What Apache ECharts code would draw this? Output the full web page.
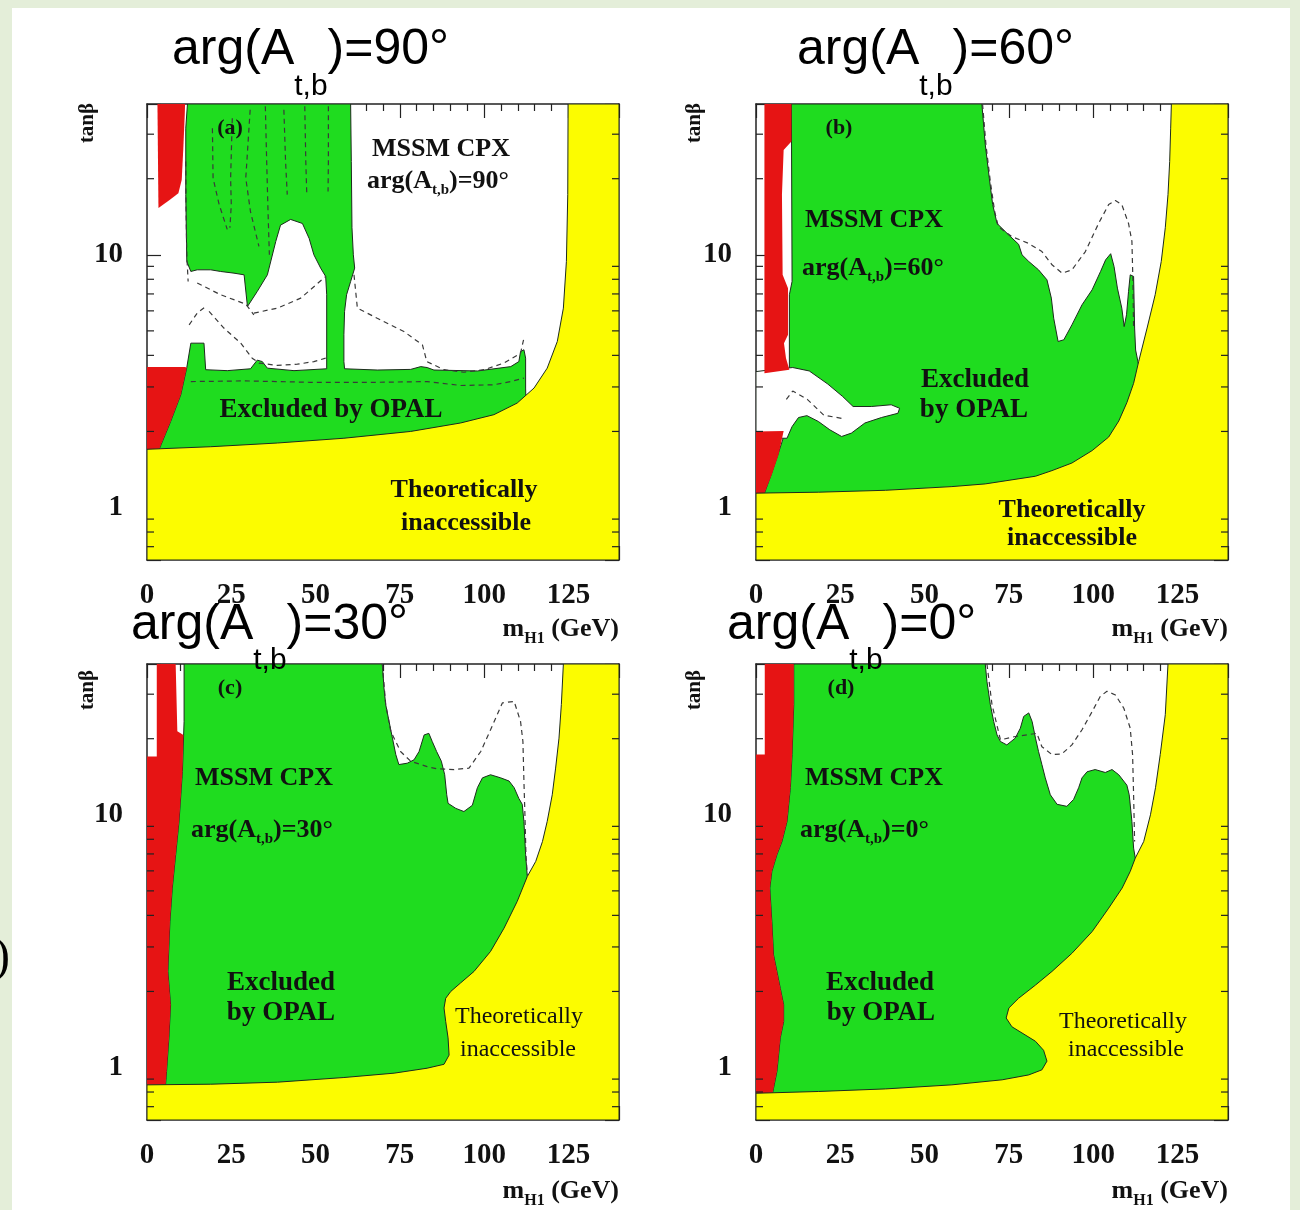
<!DOCTYPE html>
<html>
<head>
<meta charset="utf-8">
<title>MSSM CPX exclusion in the (m_H1, tanβ) plane</title>
<script src="https://cdn.jsdelivr.net/npm/echarts@6/dist/echarts.min.js"></script>
<style>
  html, body { margin: 0; padding: 0; background: #e4eed9; }
  #chart { width: 1300px; height: 1210px; }
</style>
</head>
<body>
<div id="chart"></div>
<script>
// ---------------------------------------------------------------------------
// Axis ranges and ticks (m_H1 in GeV, tanβ on a log scale)
// ---------------------------------------------------------------------------
const massRange = [0, 140];
const massTickStep = 25;
const tanbRange = [0.62, 39.5];
const tanbMajorTicks = [1, 10];
const tanbMinorTicks = [0.7, 0.8, 0.9, 2, 3, 4, 5, 6, 7, 8, 9, 20, 30];
const phases = ['90', '60', '30', '0'];
const panelTags = ['(a)', '(b)', '(c)', '(d)'];

// ---------------------------------------------------------------------------
// arg(A_t,b) = 90°   — region outlines as [m_H1, tanβ]
// ---------------------------------------------------------------------------
const inaccessible90 = [[0,1.70],[18.9,1.74],[38.7,1.80],[58.4,1.88],[78.2,2.00],[93.0,2.16],[102.9,2.33],[109.8,2.59],[114.8,2.97],[118.7,3.56],[121.7,4.54],[123.5,6.15],[124.4,9.41],[124.8,17.3],[124.9,39.5],[140,39.5],[140,0.62],[0,0.62]];
const excluded90 = [[12.0,39.5],[60.4,39.5],[60.6,23.4],[60.8,12.8],[61.2,10.0],[61.6,8.86],[60.4,7.84],[59.2,6.95],[58.6,5.97],[58.4,4.83],[58.4,3.78],[58.6,3.54],[68.3,3.50],[78.2,3.52],[81.2,3.61],[83.1,3.58],[85.1,3.50],[98.0,3.47],[107.9,3.61],[110.3,3.78],[110.8,4.14],[111.8,4.21],[112.3,3.90],[112.3,2.97],[112.8,1.52],[3.1,1.52],[3.6,1.70],[7.0,2.19],[10.0,2.79],[11.8,3.58],[13.0,4.47],[16.9,4.47],[17.4,3.51],[23.8,3.48],[30.7,3.54],[32.7,3.83],[34.2,3.78],[35.7,3.56],[43.6,3.48],[53.3,3.54],[53.3,6.95],[53.0,8.21],[51.5,8.86],[49.5,10.0],[48.1,11.6],[46.1,13.3],[42.6,13.8],[39.6,13.1],[38.2,11.3],[35.7,8.33],[32.7,7.16],[29.8,6.24],[28.8,8.33],[25.8,8.46],[21.8,8.59],[18.9,8.72],[14.9,8.72],[13.0,8.59],[11.8,9.41],[11.5,17.3],[11.5,31.7]];
const redTop90 = [[3.1,39.5],[11.3,39.5],[11.2,36.0],[10.8,26.8],[10.3,19.8],[9.3,17.5],[6.8,16.5],[3.4,15.3]];
const redLow90 = [[0,3.60],[11.2,3.60],[11.8,3.58],[10.0,2.79],[7.0,2.19],[3.6,1.70],[3.0,1.60],[0,1.60]];
const dash90 = [
  [[19.4,31.7],[19.6,20.1],[21.4,15.8],[23.8,12.6]],
  [[25.3,34.7],[24.8,20.1],[25.0,15.8],[24.6,12.8]],
  [[30.6,37.5],[29.3,20.1],[30.7,14.8],[33.2,10.8]],
  [[35.1,38.7],[35.5,23.4],[35.9,14.8],[36.3,10.0]],
  [[40.6,37.5],[41.1,23.4],[41.6,17.3]],
  [[46.8,38.7],[47.1,23.4],[47.4,17.3]],
  [[53.8,38.7],[53.8,23.4],[53.7,17.8]],
  [[11.5,23.4],[11.6,14.8],[11.8,10.0],[12.2,7.84]],
  [[14.9,7.73],[21.8,6.95],[29.3,6.38],[31.7,5.79]],
  [[31.7,5.88],[38.7,6.15],[45.6,6.74],[53.0,8.21]],
  [[12.5,5.28],[14.9,5.88],[17.4,6.24]],
  [[18.4,5.97],[22.8,5.13],[27.8,4.47],[31.2,3.90],[33.2,3.73],[38.7,3.65],[44.6,3.69],[49.5,3.78],[53.0,3.90]],
  [[61.4,8.33],[62.4,6.15],[68.3,5.61],[76.2,4.97],[81.7,4.40],[83.0,3.78],[88.1,3.51],[94.0,3.43],[100.0,3.51],[105.9,3.73],[110.8,4.08],[111.8,4.68]],
  [[13.0,3.15],[28.8,3.17],[48.5,3.13],[68.3,3.13],[83.1,3.15],[93.0,3.04],[102.9,3.06],[107.9,3.15],[111.8,3.25]]
];

// ---------------------------------------------------------------------------
// arg(A_t,b) = 60°
// ---------------------------------------------------------------------------
const inaccessible60 = [[0,1.14],[18.6,1.15],[38.4,1.17],[58.1,1.21],[68.0,1.24],[82.9,1.33],[87.8,1.40],[93.7,1.50],[99.7,1.68],[104.6,1.90],[107.6,2.20],[110.0,2.60],[112.0,3.10],[113.5,3.78],[116.0,5.13],[118.4,6.95],[120.2,9.41],[121.4,12.8],[122.2,17.3],[122.7,23.4],[123.0,31.7],[123.2,39.5],[140,39.5],[140,0.62],[0,0.62]];
const excluded60 = [[10.5,39.5],[67.0,39.5],[68.0,27.3],[69.2,20.1],[70.2,15.8],[71.5,13.3],[74.9,12.0],[77.9,11.0],[78.9,10.0],[80.9,9.41],[83.8,8.72],[86.3,7.96],[87.6,6.74],[88.3,5.61],[89.6,4.54],[91.3,4.61],[93.7,5.28],[96.7,6.34],[99.7,7.27],[102.2,8.59],[103.7,9.55],[105.2,10.1],[106.2,8.99],[107.2,7.38],[108.5,6.15],[109.2,5.20],[109.9,5.79],[110.5,7.16],[111.0,8.33],[112.0,8.21],[112.3,5.13],[112.6,4.20],[113.6,3.60],[114.0,0.96],[2.5,0.96],[2.5,1.14],[4.5,1.35],[6.5,1.62],[8.7,2.00],[9.9,3.56],[9.9,6.95],[10.7,7.84]];
const channel60 = [[0,3.45],[4.5,3.51],[10.9,3.58],[15.8,3.47],[21.3,3.08],[25.7,2.75],[28.8,2.51],[34.2,2.51],[40.1,2.55],[42.6,2.47],[42.1,2.36],[37.2,2.27],[32.3,2.16],[28.3,1.97],[25.4,1.91],[21.9,2.03],[18.5,2.19],[15.1,2.31],[12.6,2.27],[10.7,2.09],[9.2,1.88],[0,1.88]];
const redTop60 = [[2.5,39.5],[10.5,39.5],[10.5,28.1],[8.2,26.0],[7.7,17.3],[7.9,8.33],[9.5,7.38],[9.5,4.83],[8.3,4.47],[8.9,3.90],[9.9,3.51],[2.5,3.40]];
const redLow60 = [[0,2.00],[8.2,2.01],[6.7,1.62],[4.7,1.35],[2.5,1.14],[2.4,1.10],[0,1.10]];
const dash60 = [
  [[67.2,39.5],[68.2,27.3],[69.5,19.5],[70.8,14.8],[71.9,12.9],[75.9,11.8],[80.8,11.1],[84.8,10.3],[87.8,9.13],[90.8,8.46],[93.7,8.72],[97.7,10.3],[101.6,13.3],[104.6,15.8],[106.6,16.4],[108.5,15.8],[110.5,13.3],[111.5,11.3],[111.8,7.84],[112.0,5.13]],
  [[9.0,2.68],[10.9,2.89],[15.2,2.68],[20.1,2.32],[26.4,2.24]]
];

// ---------------------------------------------------------------------------
// arg(A_t,b) = 30°
// ---------------------------------------------------------------------------
const inaccessible30 = [[0,0.854],[18.9,0.859],[38.7,0.875],[58.4,0.913],[73.3,0.950],[83.1,0.994],[88.1,1.03],[89.6,1.12],[89.3,1.31],[88.6,1.52],[88.1,1.72],[88.6,1.88],[90.1,2.00],[93.0,2.16],[97.0,2.40],[101.9,2.88],[105.9,3.56],[109.8,4.54],[112.8,5.70],[115.3,6.54],[117.3,7.84],[118.7,9.41],[120.2,12.0],[121.2,15.3],[122.2,20.1],[122.9,27.3],[123.5,39.5],[140,39.5],[140,0.62],[0,0.62]];
const excluded30 = [[11.0,39.5],[69.8,39.5],[70.3,31.7],[70.8,27.3],[71.8,23.4],[72.8,20.1],[73.8,17.3],[74.7,15.8],[77.2,16.0],[79.2,16.5],[80.7,17.8],[82.2,20.7],[83.6,21.0],[84.6,19.5],[85.9,17.8],[87.3,16.3],[88.3,14.4],[88.9,12.0],[89.3,11.1],[91.6,10.6],[94.0,10.3],[96.5,10.9],[98.0,12.8],[99.5,14.0],[101.9,14.4],[104.9,14.0],[107.4,13.6],[108.9,12.8],[110.3,11.6],[111.3,11.0],[111.8,9.41],[112.3,6.95],[112.8,5.70],[112.8,0.711],[5.0,0.711],[5.5,0.854],[5.8,0.964],[6.5,1.31],[7.0,1.77],[6.2,2.40],[6.8,3.78],[7.5,5.13],[8.5,6.95],[9.5,9.41],[10.5,14.8],[11.0,23.4]];
const red30 = [[2.9,39.5],[8.5,39.5],[9.0,21.4],[10.8,20.7],[10.5,14.8],[9.5,9.41],[8.5,6.95],[7.5,5.13],[6.8,3.78],[6.2,2.40],[7.0,1.77],[6.5,1.31],[5.8,0.964],[5.5,0.854],[5.5,0.83],[0,0.83],[0,17.0],[2.9,17.0]];
const dash30 = [[69.8,39.5],[70.8,27.3],[72.3,21.4],[75.2,17.8],[78.2,16.3],[83.1,15.5],[86.1,15.2],[91.1,15.1],[95.5,15.3],[99.0,17.8],[101.9,21.7],[105.4,27.7],[108.9,28.1],[110.8,23.4],[111.5,19.5],[111.8,13.6],[112.1,10.0],[112.4,6.95],[112.8,5.79]];

// ---------------------------------------------------------------------------
// arg(A_t,b) = 0°
// ---------------------------------------------------------------------------
const inaccessible0 = [[0,0.791],[18.6,0.804],[38.4,0.823],[58.1,0.854],[73.0,0.894],[80.9,0.935],[84.8,0.979],[86.3,1.06],[85.3,1.17],[82.9,1.27],[78.9,1.37],[75.9,1.45],[74.2,1.57],[75.0,1.72],[77.9,1.88],[82.9,2.12],[87.8,2.40],[93.7,2.83],[99.7,3.45],[104.6,4.27],[108.6,5.13],[111.0,5.97],[112.5,6.74],[115.0,7.84],[117.0,10.0],[118.5,12.8],[119.9,17.3],[121.4,24.9],[122.2,39.5],[140,39.5],[140,0.62],[0,0.62]];
const excluded0 = [[11.2,39.5],[68.0,39.5],[68.5,33.7],[69.5,27.3],[70.5,23.4],[71.5,20.7],[72.5,19.5],[74.4,18.9],[76.9,20.1],[78.4,22.0],[79.4,24.5],[80.9,25.3],[81.9,23.4],[82.9,20.1],[83.8,17.8],[84.8,15.8],[85.8,14.0],[87.3,12.0],[89.3,11.0],[92.2,10.8],[94.2,11.5],[95.7,12.8],[96.7,14.0],[98.2,14.8],[100.6,15.1],[103.6,14.7],[105.6,15.1],[107.6,14.4],[110.0,13.1],[110.7,12.0],[111.5,9.41],[112.0,7.38],[112.5,6.74],[112.5,0.711],[4.9,0.711],[4.9,0.791],[5.2,0.828],[6.2,0.964],[6.7,1.12],[7.2,1.31],[8.2,1.52],[8.2,1.77],[7.2,2.06],[6.2,2.40],[5.2,2.79],[4.7,3.78],[4.1,5.13],[4.7,5.97],[6.2,6.95],[7.7,7.84],[9.2,9.41],[10.2,12.8],[10.7,17.3],[11.2,27.3]];
const red0 = [[2.6,39.5],[11.2,39.5],[11.2,27.3],[10.7,17.3],[10.2,12.8],[9.2,9.41],[7.7,7.84],[6.2,6.95],[4.7,5.97],[4.1,5.13],[4.7,3.78],[5.2,2.79],[6.2,2.40],[7.2,2.06],[8.2,1.77],[8.2,1.52],[7.2,1.31],[6.7,1.12],[6.2,0.964],[5.2,0.828],[4.9,0.791],[4.9,0.77],[0,0.77],[0,17.3],[2.6,17.3]];
const dash0 = [[68.5,39.5],[70.0,27.3],[72.5,19.8],[76.9,20.4],[83.3,21.0],[84.8,18.6],[87.8,17.3],[90.7,17.4],[93.7,18.9],[96.7,21.7],[99.7,25.6],[102.1,29.4],[104.1,30.8],[106.6,29.8],[109.1,26.4],[111.0,22.0],[111.7,17.3],[112.0,12.0],[112.3,7.84]];

// ---------------------------------------------------------------------------
// Styling and layout
// ---------------------------------------------------------------------------
const SERIF = '"Liberation Serif", "Times New Roman", serif';
const SANS = '"Liberation Sans", Arial, sans-serif';
const COLOR = {
  yellow: '#fcfc00', green: '#1fdc1f', red: '#e61414', white: '#ffffff',
  edge: '#1d2b1d', dash: '#3a3a3a', axis: '#222222', ink: '#111111'
};
const PLOT_W = 472, PLOT_H = 456;

const panels = [
  { left: 147, top: 104, inaccessible: inaccessible90, excluded: excluded90, white: [], red: [redTop90, redLow90], dashes: dash90,
    title: [172, 25.5], tag: [230, 128], cpx: [441, 149], arg: [367, 168], tanb: [88, 123], unit: [619, 616],
    excl: [[331, 410, 'Excluded by OPAL']], theo: [[464, 490, 'Theoretically'], [466, 523, 'inaccessible']], theoBold: true },
  { left: 756, top: 104, inaccessible: inaccessible60, excluded: excluded60, white: [channel60], red: [redTop60, redLow60], dashes: dash60,
    title: [797, 25.5], tag: [839, 128], cpx: [874, 220], arg: [802, 255], tanb: [695, 123], unit: [1228, 616],
    excl: [[975, 380, 'Excluded'], [974, 410, 'by OPAL']], theo: [[1072, 510, 'Theoretically'], [1072, 538, 'inaccessible']], theoBold: true },
  { left: 147, top: 664, inaccessible: inaccessible30, excluded: excluded30, white: [], red: [red30], dashes: [dash30],
    title: [131, 600], tag: [230, 688], cpx: [264, 778], arg: [191, 817], tanb: [88, 690], unit: [619, 1178],
    excl: [[281, 983, 'Excluded'], [281, 1013, 'by OPAL']], theo: [[519, 1017, 'Theoretically'], [518, 1050, 'inaccessible']], theoBold: false },
  { left: 756, top: 664, inaccessible: inaccessible0, excluded: excluded0, white: [], red: [red0], dashes: [dash0],
    title: [727, 600], tag: [841, 688], cpx: [874, 778], arg: [800, 817], tanb: [695, 690], unit: [1228, 1178],
    excl: [[880, 983, 'Excluded'], [881, 1013, 'by OPAL']], theo: [[1123, 1022, 'Theoretically'], [1126, 1050, 'inaccessible']], theoBold: false }
];

// ---------------------------------------------------------------------------
// Builders
// ---------------------------------------------------------------------------
function regionSeries(k, points, fill, stroke) {
  return {
    type: 'custom', coordinateSystem: 'cartesian2d', xAxisIndex: 2 * k, yAxisIndex: 2 * k,
    data: points, clip: true, silent: true, animation: false,
    renderItem: function (params, api) {
      if (params.context.rendered) return;
      params.context.rendered = true;
      return {
        type: 'polygon',
        shape: { points: points.map(function (p) { return api.coord(p); }) },
        style: { fill: fill, stroke: stroke || null, lineWidth: stroke ? 1 : 0 }
      };
    }
  };
}

function contourSeries(k, points) {
  return {
    type: 'line', xAxisIndex: 2 * k, yAxisIndex: 2 * k, data: points,
    showSymbol: false, symbol: 'none', clip: true, silent: true, animation: false, z: 5,
    lineStyle: { color: COLOR.dash, width: 1.2, type: [5, 4] }
  };
}

// short inward ticks at 2..9, 20, 30, 0.7..0.9 on both vertical frame edges
function minorTickSeries(k) {
  return {
    type: 'custom', coordinateSystem: 'cartesian2d', xAxisIndex: 2 * k, yAxisIndex: 2 * k,
    data: tanbMinorTicks.map(function (v) { return [massRange[0], v]; }),
    silent: true, animation: false, z: 6,
    renderItem: function (params, api) {
      const v = api.value(1);
      const a = api.coord([massRange[0], v]);
      const b = api.coord([massRange[1], v]);
      const st = { stroke: COLOR.axis, lineWidth: 1.2 };
      return {
        type: 'group',
        children: [
          { type: 'line', shape: { x1: a[0], y1: a[1], x2: a[0] + 7, y2: a[1] }, style: st },
          { type: 'line', shape: { x1: b[0] - 7, y1: b[1], x2: b[0], y2: b[1] }, style: st }
        ]
      };
    }
  };
}

const grids = [], xAxes = [], yAxes = [], series = [];
const frameLine = { show: true, onZero: false, lineStyle: { color: COLOR.axis, width: 1.5 } };
const majorTick = { show: true, inside: true, length: 14, lineStyle: { color: COLOR.axis, width: 1.2 } };

panels.forEach(function (p, k) {
  grids.push({ left: p.left, top: p.top, width: PLOT_W, height: PLOT_H, containLabel: false, outerBoundsMode: 'none' });

  const xBase = {
    gridIndex: k, type: 'value', min: massRange[0], max: massRange[1], interval: massTickStep,
    axisLine: frameLine, axisTick: majorTick,
    minorTick: { show: true, splitNumber: 5, length: 7, lineStyle: { color: COLOR.axis, width: 1.2 } },
    splitLine: { show: false }, minorSplitLine: { show: false }
  };
  xAxes.push(Object.assign({}, xBase, {
    position: 'bottom',
    axisLabel: {
      show: true, margin: 21, fontFamily: SERIF, fontWeight: 'bold', fontSize: 29, color: COLOR.ink,
      showMaxLabel: false,
      formatter: function (v) { return v % massTickStep === 0 ? String(v) : ''; }
    }
  }));
  xAxes.push(Object.assign({}, xBase, { position: 'top', axisLabel: { show: false } }));

  const yBase = {
    gridIndex: k, type: 'log', logBase: 10, min: tanbRange[0], max: tanbRange[1],
    axisLine: frameLine, axisTick: majorTick, minorTick: { show: false },
    splitLine: { show: false }
  };
  yAxes.push(Object.assign({}, yBase, {
    position: 'left',
    axisLabel: {
      show: true, margin: 24, fontFamily: SERIF, fontWeight: 'bold', fontSize: 29, color: COLOR.ink,
      formatter: function (v) {
        for (let i = 0; i < tanbMajorTicks.length; i++) {
          if (Math.abs(v - tanbMajorTicks[i]) < 1e-6 * tanbMajorTicks[i]) return String(tanbMajorTicks[i]);
        }
        return '';
      }
    }
  }));
  yAxes.push(Object.assign({}, yBase, { position: 'right', axisLabel: { show: false } }));

  series.push(regionSeries(k, p.excluded, COLOR.green, COLOR.edge));
  p.white.forEach(function (w) { series.push(regionSeries(k, w, COLOR.white, COLOR.edge)); });
  p.red.forEach(function (r) { series.push(regionSeries(k, r, COLOR.red, null)); });
  series.push(regionSeries(k, p.inaccessible, COLOR.yellow, COLOR.edge));
  p.dashes.forEach(function (d) { series.push(contourSeries(k, d)); });
  series.push(minorTickSeries(k));
});

// ---------------------------------------------------------------------------
// Text annotations
// ---------------------------------------------------------------------------
function plainText(x, y, text, font, extra) {
  return Object.assign({
    type: 'text', x: x, y: y, z: 100, silent: true,
    style: { text: text, font: font, fill: COLOR.ink, align: 'center', verticalAlign: 'middle' }
  }, extra || {});
}

const graphics = [
  { type: 'rect', z: -100, silent: true, shape: { x: 12, y: 8, width: 1278, height: 1202 }, style: { fill: '#ffffff' } },
  plainText(10, 958, ')', '48px ' + SERIF, { style: { text: ')', font: '48px ' + SERIF, fill: '#000', align: 'right', verticalAlign: 'middle' } })
];

panels.forEach(function (p, k) {
  // panel heading
  graphics.push({
    type: 'text', x: p.title[0], y: p.title[1], z: 100, silent: true,
    style: {
      text: '{m|arg(A}{s|t,b}{m|)=' + phases[k] + '°}', align: 'left', verticalAlign: 'top',
      rich: {
        m: { fontFamily: SANS, fontSize: 50, lineHeight: 50, verticalAlign: 'top', fill: '#000' },
        s: { fontFamily: SANS, fontSize: 30, lineHeight: 122, fill: '#000' }
      }
    }
  });
  graphics.push(plainText(p.tag[0], p.tag[1], panelTags[k], 'bold 22px ' + SERIF));
  graphics.push(plainText(p.cpx[0], p.cpx[1], 'MSSM CPX', 'bold 26px ' + SERIF));
  graphics.push({
    type: 'text', x: p.arg[0], y: p.arg[1], z: 100, silent: true,
    style: {
      text: '{m|arg(A}{s|t,b}{m|)=' + phases[k] + '°}', align: 'left', verticalAlign: 'top',
      rich: {
        m: { fontFamily: SERIF, fontWeight: 'bold', fontSize: 26, lineHeight: 26, verticalAlign: 'top', fill: COLOR.ink },
        s: { fontFamily: SERIF, fontWeight: 'bold', fontSize: 15, lineHeight: 45, fill: COLOR.ink }
      }
    }
  });
  p.excl.forEach(function (e) { graphics.push(plainText(e[0], e[1], e[2], 'bold 27px ' + SERIF)); });
  p.theo.forEach(function (e) {
    graphics.push(plainText(e[0], e[1], e[2], (p.theoBold ? 'bold 26px ' : '24px ') + SERIF));
  });
  graphics.push(plainText(p.tanb[0], p.tanb[1], 'tanβ', 'bold 21px ' + SERIF, { rotation: Math.PI / 2 }));
  graphics.push({
    type: 'text', x: p.unit[0], y: p.unit[1], z: 100, silent: true,
    style: {
      text: '{m|m}{s|H1}{m| (GeV)}', align: 'right', verticalAlign: 'top',
      rich: {
        m: { fontFamily: SERIF, fontWeight: 'bold', fontSize: 26, lineHeight: 26, verticalAlign: 'top', fill: COLOR.ink },
        s: { fontFamily: SERIF, fontWeight: 'bold', fontSize: 16, lineHeight: 45, fill: COLOR.ink }
      }
    }
  });
});

const chart = echarts.init(document.getElementById('chart'), null, { renderer: 'canvas' });
chart.setOption({
  backgroundColor: '#e4eed9',
  animation: false,
  grid: grids,
  xAxis: xAxes,
  yAxis: yAxes,
  series: series,
  graphic: graphics
});
</script>
</body>
</html>
